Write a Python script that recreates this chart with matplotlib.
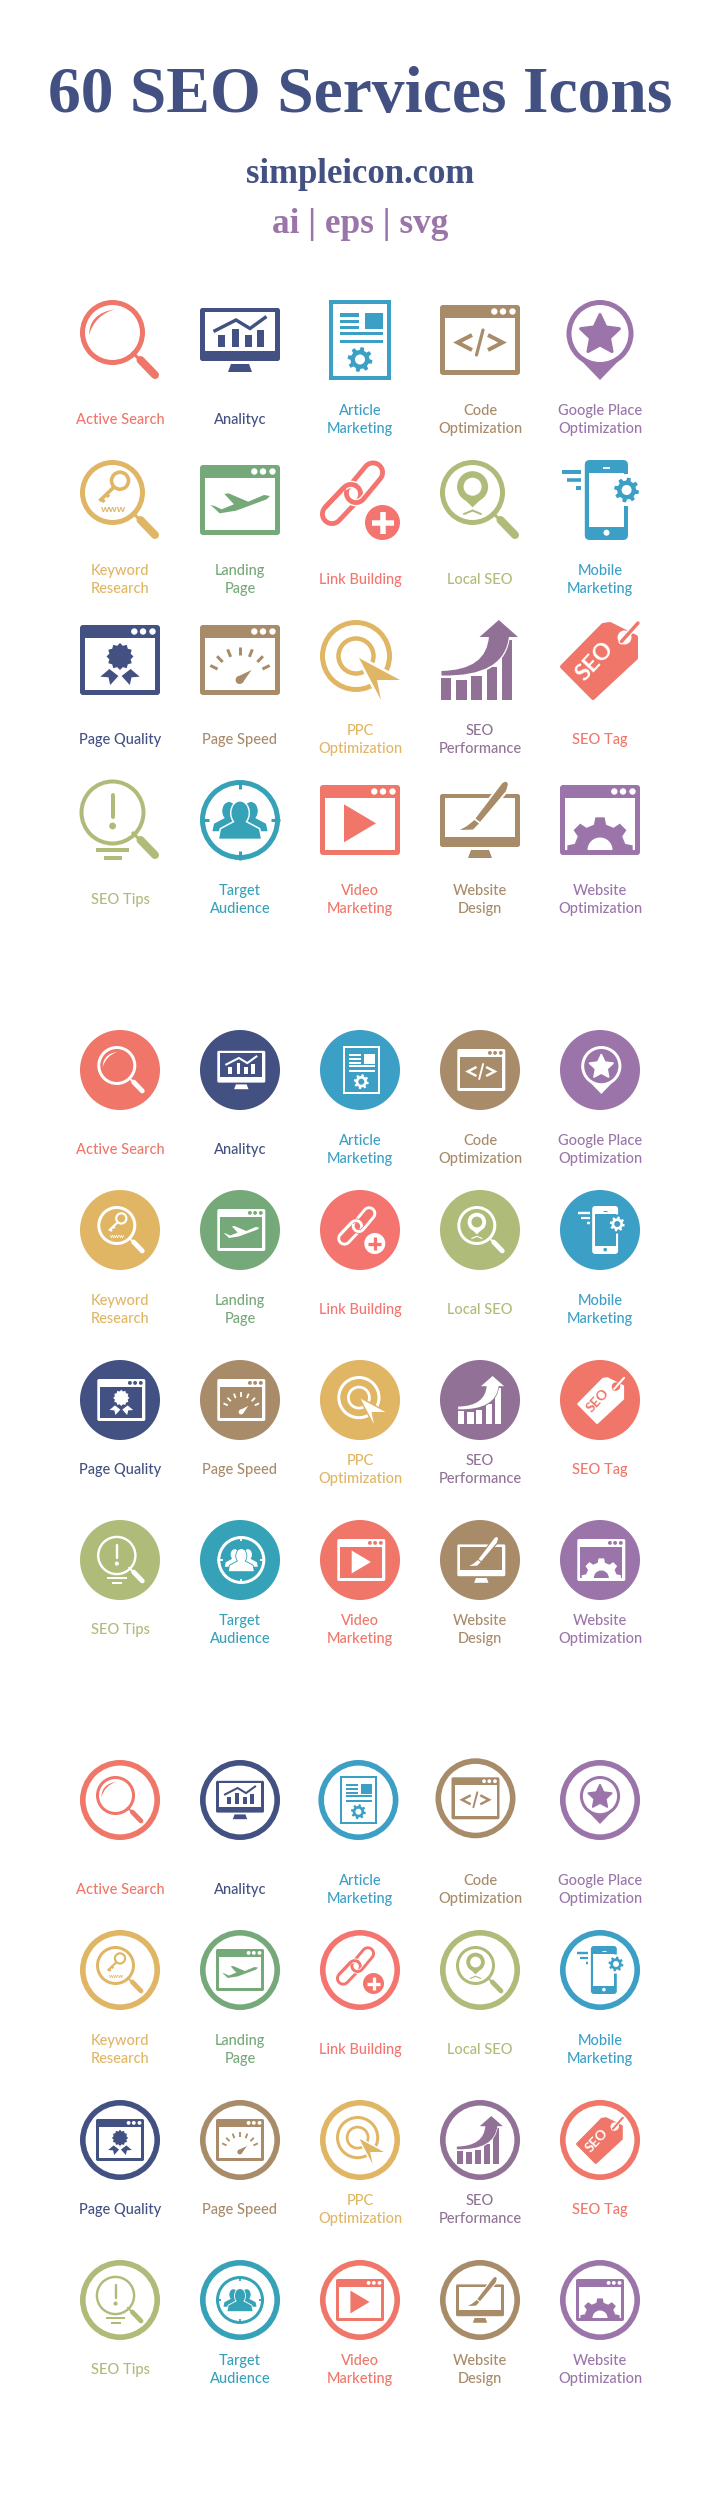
import numpy as np
import matplotlib
matplotlib.use("Agg")
import matplotlib.pyplot as plt
from matplotlib.path import Path
from matplotlib.patches import PathPatch, Circle, Ellipse, Polygon, FancyBboxPatch, Rectangle
from matplotlib.transforms import Affine2D

NAVY = "#435082"
PURPLE = "#9B75AA"

title_text = "60 SEO Services Icons"
site_text = "simpleicon.com"
formats_text = "ai | eps | svg"

names = ["Active Search", "Analityc", "Article\nMarketing", "Code\nOptimization", "Google Place\nOptimization",
         "Keyword\nResearch", "Landing\nPage", "Link Building", "Local SEO", "Mobile\nMarketing",
         "Page Quality", "Page Speed", "PPC\nOptimization", "SEO\nPerformance", "SEO Tag",
         "SEO Tips", "Target\nAudience", "Video\nMarketing", "Website\nDesign", "Website\nOptimization"]
colors = ["#EF7669", "#435082", "#3C9FC5", "#A88B68", "#9B75AA",
          "#E0B665", "#76A97A", "#F4756F", "#AFBB78", "#3C9FC5",
          "#435082", "#A88B68", "#E0B665", "#917296", "#EF7669",
          "#AFBB78", "#36A2B8", "#EF7669", "#A88B68", "#9B75AA"]

col_x = [120, 240, 360, 480, 600]
row_tops = [[300, 460, 620, 780], [1030, 1190, 1360, 1520], [1760, 1930, 2100, 2260]]
label_gaps = [[119, 119, 119, 119], [119, 119, 109, 109], [129, 119, 109, 109]]


class Pen:
    # draws in an 80x80 box, y going down
    def __init__(self, ax, x0, y0, s, fg, bg):
        self.ax, self.s, self.fg, self.bg = ax, s, fg, bg
        self.tr = Affine2D().scale(s).translate(x0, y0) + ax.transData

    def add(self, patch):
        patch.set_transform(self.tr)
        self.ax.add_patch(patch)
        return patch

    def c(self, color):
        return {"f": self.fg, "b": self.bg}[color]

    def circ(self, x, y, r, color="f"):
        return self.add(Circle((x, y), r, fc=self.c(color), ec="none"))

    def ring(self, x, y, r, w, color="f"):
        return self.add(Circle((x, y), r, fc="none", ec=self.c(color), lw=w * self.s * 0.72))

    def oval(self, x, y, w, h, color="f"):
        return self.add(Ellipse((x, y), w, h, fc=self.c(color), ec="none"))

    def poly(self, pts, color="f", edge=0):
        col = self.c(color)
        return self.add(Polygon(pts, closed=True, fc=col, ec=col if edge else "none",
                                lw=edge * self.s * 0.72, joinstyle="round"))

    def line(self, pts, w, color="f", cap="round"):
        return self.add(PathPatch(Path(pts), fc="none", ec=self.c(color), lw=w * self.s * 0.72,
                                  capstyle=cap, joinstyle="miter"))

    def loop(self, pts, w, color="f"):
        return self.add(Polygon(pts, closed=True, fc="none", ec=self.c(color), lw=w * self.s * 0.72,
                                joinstyle="round"))

    def rect(self, x0, y0, x1, y1, color="f"):
        return self.add(Rectangle((x0, y0), x1 - x0, y1 - y0, fc=self.c(color), ec="none"))

    def rrect(self, x0, y0, x1, y1, r, color="f"):
        return self.add(FancyBboxPatch((x0 + r, y0 + r), x1 - x0 - 2 * r, y1 - y0 - 2 * r,
                                       boxstyle=f"round,pad={r}", fc=self.c(color), ec="none"))

    def curve(self, verts, codes, color="f"):
        return self.add(PathPatch(Path(verts, codes), fc=self.c(color), ec="none"))

    def text(self, x, y, s, size, color="f", rot=0):
        self.ax.text(x, y, s, transform=self.tr, fontsize=size * self.s * 0.72, color=self.c(color),
                     family="Lato", fontweight="bold", ha="center", va="center", rotation=rot)


def gear_pts(cx, cy, r_out, r_in, n, rot=0.0):
    pts = []
    step = 2 * np.pi / n
    for k in range(n):
        a = rot + k * step
        for da, r in [(-0.30, r_in), (-0.18, r_out), (0.18, r_out), (0.30, r_in)]:
            t = a + da * step
            pts.append((cx + r * np.cos(t), cy + r * np.sin(t)))
    return pts


def gear(p, cx, cy, r, hole):
    p.poly(gear_pts(cx, cy, r, r * 0.76, 8, 0.2))
    p.circ(cx, cy, hole, "b")


def star_pts(cx, cy, r_out, r_in, n=5):
    pts = []
    for k in range(2 * n):
        a = -np.pi / 2 + k * np.pi / n
        r = r_out if k % 2 == 0 else r_in
        pts.append((cx + r * np.cos(a), cy + r * np.sin(a)))
    return pts


def capsule_pts(a, b, r):
    ang = np.arctan2(b[1] - a[1], b[0] - a[0])
    pts = []
    for t in np.linspace(ang + np.pi / 2, ang + 3 * np.pi / 2, 16):
        pts.append((a[0] + r * np.cos(t), a[1] + r * np.sin(t)))
    for t in np.linspace(ang - np.pi / 2, ang + np.pi / 2, 16):
        pts.append((b[0] + r * np.cos(t), b[1] + r * np.sin(t)))
    return pts


def lens(p, w=5, r=30):
    p.ring(32.5, 32.5, r, w)
    p.line([(52, 52), (59, 59)], 3, cap="butt")
    p.line([(60.5, 60), (75, 75)], 8)


def pin(p, cx, cy, r, tip, hole):
    p.poly([(cx - r * 0.86, cy + r * 0.5), (cx, tip), (cx + r * 0.86, cy + r * 0.5)])
    p.circ(cx, cy, r)
    p.circ(cx, cy, hole, "b")


def window(p):
    p.rrect(0, 5, 80, 75, 3)
    p.rect(5, 18, 75, 70, "b")
    for x in (54.3, 63, 72.5):
        p.circ(x, 11.5, 3.2, "b")


def monitor(p, top, bot, screen_top, screen_bot, stand_top, stand_bot):
    p.rrect(0, top, 80, bot, 2.5)
    p.rect(5, screen_top, 75, screen_bot, "b")
    p.poly([(31, stand_top), (49, stand_top), (52, stand_bot), (28, stand_bot)])


def active_search(p):
    lens(p)
    codes = [Path.MOVETO, Path.CURVE3, Path.CURVE3, Path.CURVE3, Path.CURVE3, Path.CLOSEPOLY]
    p.curve([(9, 35), (9.5, 13), (34.5, 9.5), (15, 15), (9, 35), (9, 35)], codes)


def analytics(p):
    monitor(p, 8, 61, 12, 51, 64, 72)
    for x0, x1, top in [(18, 24.5, 35), (32, 38.5, 28.5), (44.5, 51.5, 35), (56.5, 63.5, 29.5)]:
        p.rect(x0, top, x1, 46.7)
    p.line([(13.5, 31.5), (36, 20), (50, 28.5), (66.5, 16.5)], 3.4, cap="butt")


def article(p):
    p.rect(9, 0, 71, 80)
    p.rect(13, 4, 67, 76, "b")
    for y0, y1 in [(13.3, 16.7), (20, 23.3), (26, 29.3)]:
        p.rect(20, y0, 39, y1)
    p.rect(45, 13, 62.5, 29.3)
    p.rect(20, 32, 62.5, 35.3)
    p.rect(20, 40, 62.5, 43.3)
    gear(p, 40, 59.5, 12.5, 5)


def code_opt(p):
    window(p)
    p.line([(32, 35), (17.5, 42.5), (32, 50)], 4, cap="butt")
    p.line([(48, 35), (62.5, 42.5), (48, 50)], 4, cap="butt")
    p.line([(43, 30), (36.5, 55)], 3.2)


def google_place(p):
    pin(p, 40, 33.5, 33.5, 80, 28.5)
    p.poly(star_pts(40, 35, 20.5, 10), edge=3)


def keyword(p):
    lens(p)
    p.ring(40, 20.7, 8.5, 3.6)
    p.line([(34, 27), (19.5, 41)], 3.6, cap="butt")
    p.line([(26, 34), (29, 37)], 3.4, cap="butt")
    p.line([(21, 38.5), (24.5, 42)], 3.4, cap="butt")
    p.text(33.5, 50, "www", 10.5)


def landing(p):
    window(p)
    p.poly([(70, 36), (66.7, 39.3), (36, 50.7), (19.5, 53.3), (16.2, 50), (10.5, 45), (14.6, 46),
            (21.6, 49.3), (33.9, 44.3), (24.4, 34), (28.5, 33.3), (48.2, 41.7), (64, 35)])


def link_building(p):
    lower = capsule_pts((12, 54), (31, 34), 9.6)
    upper = capsule_pts((36, 33), (53, 12.5), 9.6)
    p.loop(lower, 4.8)
    p.loop(upper, 7.5, "b")
    p.loop(upper, 4.8)
    # the lower link passes back over the upper one on one side
    p.line(lower[16:23], 7.5, "b", cap="butt")
    p.line(lower[15:24], 4.8, cap="butt")
    p.circ(62.5, 62.5, 20, "b")
    p.circ(62.5, 62.5, 17.5)
    p.line([(62.5, 51.5), (62.5, 73.5)], 5.5, "b", cap="butt")
    p.line([(51.5, 62.5), (73.5, 62.5)], 5.5, "b", cap="butt")


def local_seo(p):
    lens(p)
    pin(p, 32.6, 26.7, 15.5, 47.3, 9)
    p.line([(24, 54), (32.6, 50.5), (41, 54)], 2)


def mobile(p):
    p.line([(1.5, 12), (20.6, 12)], 4, cap="butt")
    p.line([(6.5, 20), (20.6, 20)], 3.6, cap="butt")
    p.line([(16, 28), (20.6, 28)], 4, cap="butt")
    p.rrect(24.8, 0, 68, 80, 5)
    p.rect(29, 13.3, 64, 66.7, "b")
    p.line([(43, 8), (50, 8)], 1.8, "b", cap="butt")
    p.circ(46.5, 72.7, 3, "b")
    p.circ(66.6, 30, 16, "b")
    gear(p, 66.6, 30, 12.5, 5)


def page_quality(p):
    window(p)
    p.poly([(29.4, 49), (20.3, 56.7), (28.5, 57.3), (30.2, 65), (38.4, 56)])
    p.poly([(50.6, 49), (59.7, 56.7), (51.5, 57.3), (49.8, 65), (41.6, 56)])
    pts = []
    for k in range(24):
        a = k * np.pi / 12
        r = 13.5 if k % 2 == 0 else 11
        pts.append((40 + r * np.cos(a), 36.5 + r * np.sin(a)))
    p.poly(pts)


def page_speed(p):
    window(p)
    for deg in (-64, -44, -22, 0, 22, 44, 64):
        a = np.radians(deg)
        p.line([(40 + 25 * np.sin(a), 60 - 25 * np.cos(a)), (40 + 33 * np.sin(a), 60 - 33 * np.cos(a))],
               3, cap="butt")
    p.circ(39.6, 60, 4)
    p.poly([(36.8, 57), (51.5, 50), (42.5, 63)])


def ppc(p):
    p.ring(36, 36, 33.5, 5)
    p.ring(36, 36, 17.5, 4.5)
    arrow = [(39, 38), (80, 60), (57, 60), (61, 80)]
    p.poly(arrow, "b", edge=5)
    p.poly(arrow)


def performance(p):
    for x0, x1, top in [(1.4, 11.4, 57.5), (16.2, 27.3, 59.5), (31.4, 41.7, 56),
                        (47, 57.2, 46.5), (62.2, 72, 20)]:
        p.rect(x0, top, x1, 80)
    codes = [Path.MOVETO, Path.CURVE3, Path.CURVE3, Path.LINETO, Path.CURVE3, Path.CURVE3, Path.CLOSEPOLY]
    p.curve([(1.4, 52.7), (49, 52), (49, 16), (70, 16), (66, 59), (1.4, 57.5), (1.4, 52.7)], codes, "b")
    p.curve([(1.4, 51), (47, 50), (49, 16), (69, 16), (65, 57), (1.4, 55.5), (1.4, 51)], codes)
    p.poly([(58.8, 0), (78, 17), (39.5, 17)])


def seo_tag(p):
    p.poly([(2, 46.7), (43, 5), (50, 4), (76, 17), (76, 38), (33, 78)], edge=4)
    p.circ(64.5, 17.5, 7, "b")
    p.line([(61.5, 21.5), (78, 3)], 6, "b")
    p.line([(61.5, 21.5), (78, 3)], 3.4)
    p.text(35, 41.5, "SEO", 23, "b", rot=47)


def seo_tips(p):
    lens(p, w=4, r=31)
    p.line([(32.6, 15), (32.6, 36.7)], 4)
    p.circ(32.6, 46, 3.4)
    p.rect(16.2, 68.3, 49, 72.3)
    p.rect(24.4, 76, 41.6, 80)


def person(p, cx, cy, k, edge=False):
    body = [(cx - 5 * k, cy + 9 * k), (cx - 20 * k, cy + 17 * k), (cx - 22 * k, cy + 27 * k),
            (cx + 22 * k, cy + 27 * k), (cx + 20 * k, cy + 17 * k), (cx + 5 * k, cy + 9 * k)]
    if edge:
        p.poly(body, "b", edge=3)
        p.oval(cx, cy, 21 * k, 27 * k, "b")
    p.poly(body)
    p.oval(cx, cy, 18 * k, 24 * k)


def target(p):
    p.ring(40, 40, 37.5, 5)
    for a, b in [((40, 0), (40, 9)), ((40, 71), (40, 80)), ((0, 40), (9, 40)), ((71, 40), (80, 40))]:
        p.line([a, b], 3, cap="butt")
    person(p, 29, 31, 0.75)
    person(p, 51, 31, 0.75)
    person(p, 40, 33, 0.95, edge=True)


def video(p):
    window(p)
    p.poly([(24, 24.3), (56, 43.3), (24, 62.3)])


def design(p):
    monitor(p, 14, 67, 18.3, 57.3, 70, 78)
    brush = [(62.5, 3), (66, 1.5), (68, 4), (66, 11), (40, 42), (35.5, 38.5)]
    p.poly(brush, "b", edge=4)
    p.poly(brush)
    p.poly([(34.5, 40), (39, 43.5), (33, 49.5), (20, 50), (27, 46)])


def web_opt(p):
    window(p)
    clip = Rectangle((5, 18), 70, 52, transform=p.tr)
    p.poly(gear_pts(40, 70, 33, 26, 8, np.pi / 2)).set_clip_path(clip)
    p.circ(40, 70, 12.5, "b").set_clip_path(clip)


icon_funcs = [active_search, analytics, article, code_opt, google_place,
              keyword, landing, link_building, local_seo, mobile,
              page_quality, page_speed, ppc, performance, seo_tag,
              seo_tips, target, video, design, web_opt]

# the ring set has two badges sitting a little off the grid
ring_shift = {(0, 2): (-1.6, 0), (0, 3): (-4.5, -1.7)}

fig = plt.figure(figsize=(7.2, 25), dpi=100)
ax = fig.add_axes([0, 0, 1, 1])
ax.set_xlim(0, 720)
ax.set_ylim(2500, 0)
ax.axis("off")

ax.text(360, 112, title_text, fontsize=47.2, family="Liberation Serif", fontweight="bold",
        color=NAVY, ha="center", va="baseline")
ax.text(360, 183, site_text, fontsize=25, family="Liberation Serif", fontweight="bold",
        color=NAVY, ha="center", va="baseline")
ax.text(360, 233, formats_text, fontsize=25.4, family="Liberation Serif", fontweight="bold",
        color=PURPLE, ha="center", va="baseline")

for sec in range(3):
    for i, (name, col, draw) in enumerate(zip(names, colors, icon_funcs)):
        row, c = i // 5, i % 5
        top = row_tops[sec][row]
        cx = col_x[c]
        if sec == 0:
            draw(Pen(ax, cx - 40, top, 1.0, col, "white"))
        else:
            dx, dy = ring_shift.get((row, c), (0, 0)) if sec == 2 else (0, 0)
            if sec == 1:
                ax.add_patch(Circle((cx, top + 40), 40, fc=col, ec="none"))
                draw(Pen(ax, cx - 22.7, top + 16, 0.6, "white", col))
            else:
                ax.add_patch(Circle((cx + dx, top + 40 + dy), 37.2, fc="white", ec=col, lw=5.6 * 0.72))
                draw(Pen(ax, cx + dx - 24, top + dy + 16, 0.6, col, "white"))
        ax.text(cx, top + label_gaps[sec][row] + 1, name, fontsize=10.5, family="Lato", fontweight="medium",
                color=col, ha="center", va="center", linespacing=1.33, multialignment="center")

fig.savefig("out.png", dpi=100)
